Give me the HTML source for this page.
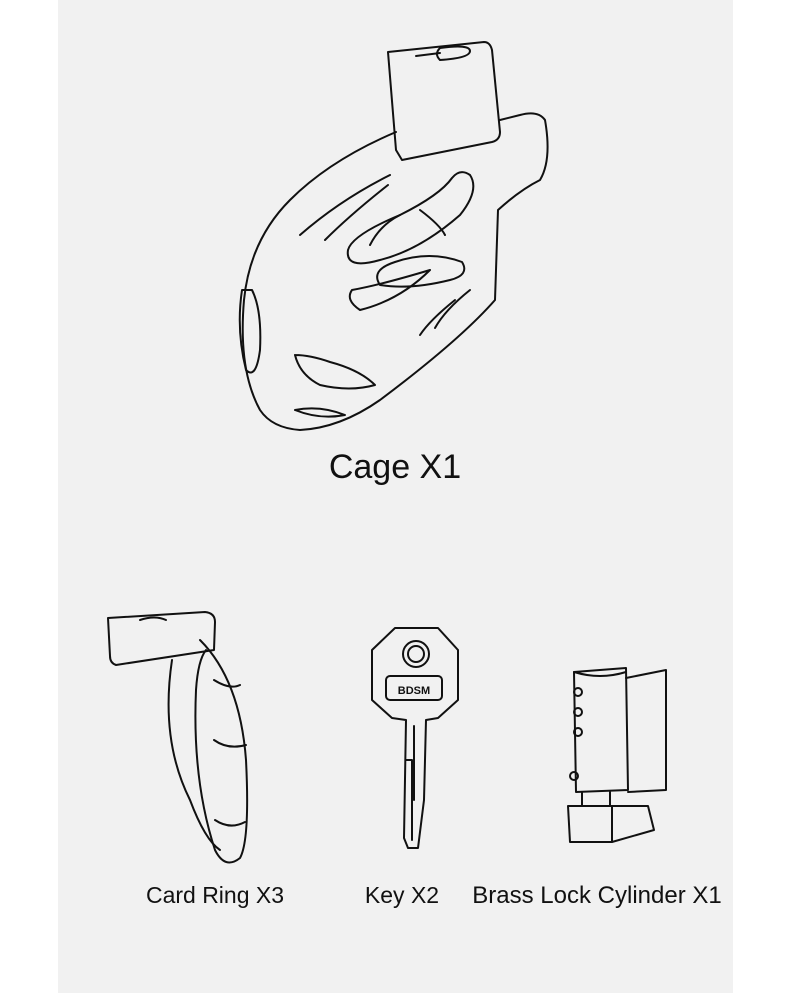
<!DOCTYPE html>
<html><head><style>
html,body{margin:0;padding:0;background:#fff;}
.wrap{position:relative;width:790px;height:995px;background:#fff;overflow:hidden;}
.panel{position:absolute;left:58px;top:0;width:675px;height:993px;background:#f1f1f1;}
svg{position:absolute;left:0;top:0;}
.t{font-family:"Liberation Sans",sans-serif;fill:#111;}
</style></head><body><div class="wrap"><div class="panel"></div>
<svg width="790" height="995" viewBox="0 0 790 995" fill="none" stroke="#111" stroke-width="2" stroke-linejoin="round" stroke-linecap="round">
<path d="M388 52 L484 42 Q490 42 492 50 L500 132 Q500 140 492 142 L402 160 L396 150 Z"/>
<path d="M416 56 L440 53 M440 48 Q470 44 470 51 Q470 58 440 60 Q434 54 440 48"/>
<path d="M396 132 Q330 160 290 200 Q250 240 244 300 Q238 370 260 410 Q272 428 300 430 Q340 428 380 400 Q460 340 495 300 L498 210 Q520 190 540 180 Q552 160 545 120 Q538 110 520 115 L500 120"/>
<path d="M242 290 Q236 330 246 370 Q256 380 260 350 Q262 310 252 290 Z"/>
<path d="M390 175 Q340 200 300 235 M388 185 Q350 215 325 240"/>
<path d="M470 175 Q480 190 460 215 Q420 250 380 260 Q345 270 348 250 Q352 235 400 215 Q440 195 452 178 Q460 168 470 175 Z"/>
<path d="M400 215 Q380 225 370 245 M420 210 Q440 225 445 235"/>
<path d="M462 262 Q470 275 450 280 Q410 290 380 285 Q370 270 395 262 Q430 250 462 262 Z"/>
<path d="M430 270 Q400 300 360 310 Q345 300 352 290 Q380 285 430 270"/>
<path d="M455 300 Q430 320 420 335 M470 290 Q445 310 435 328"/>
<path d="M295 355 Q300 375 320 385 Q350 392 375 385 Q360 370 330 362 Q310 355 295 355"/>
<path d="M295 410 Q320 420 345 415 Q320 405 295 410"/>
<path d="M108 618 L205 612 Q215 613 215 622 L214 650 L116 665 Q110 663 110 656 Z"/>
<path d="M140 620 Q155 615 166 620"/>
<path d="M200 640 Q240 680 246 760 Q250 840 240 858 Q225 870 215 850 Q192 780 196 690 Q198 660 206 650"/>
<path d="M172 660 Q160 740 190 800 Q205 840 220 850"/>
<path d="M214 680 Q230 690 240 685 M214 740 Q228 750 246 745 M215 820 Q230 830 245 822"/>
<path d="M395 628 L438 628 L458 650 L458 700 L438 718 L426 720 L424 800 L418 848 L408 848 L404 838 L406 720 L392 718 L372 700 L372 650 Z"/>
<circle cx="416" cy="654" r="13"/><circle cx="416" cy="654" r="8"/>
<rect x="386" y="676" width="56" height="24" rx="4"/>
<path d="M406 760 L412 760 L412 840 M414 726 L414 800"/>
<path d="M574 672 L626 668 L628 790 L576 792 Z"/>
<path d="M626 678 L666 670 L666 790 L628 792"/>
<path d="M574 672 Q600 680 626 672"/>
<circle cx="578" cy="692" r="4"/><circle cx="578" cy="712" r="4"/><circle cx="578" cy="732" r="4"/><circle cx="574" cy="776" r="4"/>
<path d="M582 792 L582 806 L610 806 L610 792"/>
<path d="M568 806 L648 806 L654 830 L612 842 L570 842 Z M612 806 L612 842"/>
<g stroke="none">
<text class="t" x="395" y="478" font-size="34" text-anchor="middle">Cage X1</text>
<text class="t" x="215" y="903" font-size="23" text-anchor="middle">Card Ring X3</text>
<text class="t" x="402" y="903" font-size="23" text-anchor="middle">Key X2</text>
<text class="t" x="597" y="903" font-size="24" text-anchor="middle">Brass Lock Cylinder X1</text>
<text class="t" x="414" y="694" font-size="11" text-anchor="middle" font-weight="bold">BDSM</text>
</g>
</svg></div></body></html>
